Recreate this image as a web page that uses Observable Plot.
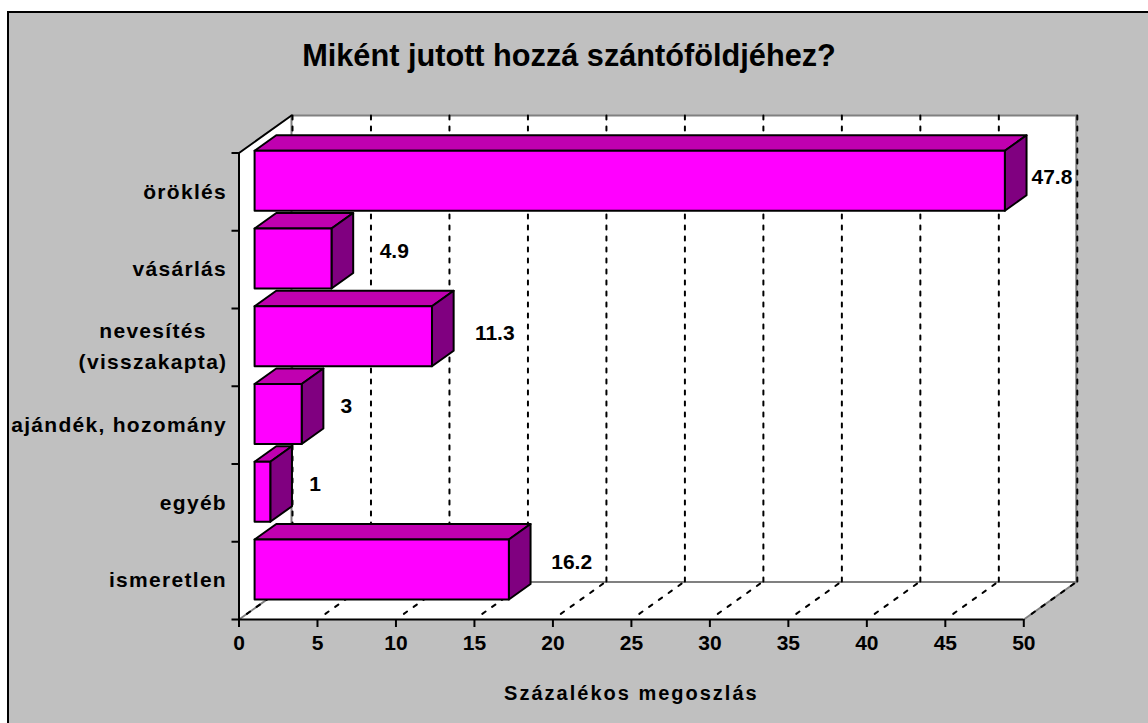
<!DOCTYPE html>
<html lang="hu"><head><meta charset="utf-8">
<script src="https://cdn.jsdelivr.net/npm/d3@7"></script>
<script src="https://cdn.jsdelivr.net/npm/@observablehq/plot@0.6"></script>
<style>
html,body{margin:0;padding:0;background:#fff;width:1148px;height:723px;overflow:hidden}
#frame{position:absolute;left:7px;top:11px;width:1141px;height:712px;box-sizing:border-box;border-top:2px solid #000;border-left:2px solid #000;background:#c0c0c0;overflow:hidden;font-family:"Liberation Sans",Arial,sans-serif}
#frame h1{margin:0;height:82px;width:1120px;text-align:center;font-size:30.7px;line-height:86px;font-weight:bold;color:#000}
#chart svg{display:block;background:transparent;font-family:"Liberation Sans",Arial,sans-serif}
</style></head><body>
<div id="frame"><h1>Miként jutott hozzá szántóföldjéhez?</h1><div id="chart"></div></div>
<script>
const categories = ["öröklés","vásárlás","nevesítés\n(visszakapta)","ajándék, hozomány","egyéb","ismeretlen"];
const values = [47.8,4.9,11.3,3,1,16.2];
const xTicks = [0,5,10,15,20,25,30,35,40,45,50];
const rowTicks = [0,1,2,3,4,5,6];
const axisTitle = "Százalékos megoszlás";
const closeLabels = [47.8,11.3];

// oblique projection: depth 0 = front of the box, depth 1 = back wall (in data units)
const depthX = 3.345, depthY = 0.482;
const P = (v,row,d)=>({x:v+d*depthX,y:row-d*depthY});
const poly = (id,pts)=>[...pts,pts[0]].map(([v,r,d])=>({id,...P(v,r,d)}));
const seg = (id,a,b)=>[a,b].map(([v,r,d])=>({id,...P(v,r,d)}));

const barD0 = 0.297, barD1 = 0.71, barInset = 0.114;
const bars = values.map((v,i)=>({v,t:i+barInset,b:i+1-barInset,i}));
const front = bars.flatMap(b=>poly(b.i,[[0,b.t,barD0],[b.v,b.t,barD0],[b.v,b.b,barD0],[0,b.b,barD0]]));
const top3d = bars.flatMap(b=>poly(b.i,[[0,b.t,barD0],[b.v,b.t,barD0],[b.v,b.t,barD1],[0,b.t,barD1]]));
const side = bars.flatMap(b=>poly(b.i,[[b.v,b.t,barD0],[b.v,b.b,barD0],[b.v,b.b,barD1],[b.v,b.t,barD1]]));

const wallBack = poly("w",[[0,0,1],[50,0,1],[50,6,1],[0,6,1]]);
const wallLeft = poly("l",[[0,0,0],[0,0,1],[0,6,1],[0,6,0]]);
const floor = poly("f",[[0,6,0],[50,6,0],[50,6,1],[0,6,1]]);
const grayEdges = [
  seg("a",[0,0,1],[50,0,1]), seg("b",[50,0,1],[50,6,1]), seg("c",[0,6,1],[50,6,1]),
  seg("d",[0,0,1],[0,6,1]), seg("e",[0,6,0],[0,6,1]), seg("g",[50,6,0],[50,6,1])
].flat();
const blackEdges = [seg("a",[0,0,0],[0,0,1]), seg("b",[0,0,0],[0,6,0])].flat();
const gridBack = xTicks.flatMap(t=>seg(t,[t,0,1],[t,6,1]));
const gridFloor = xTicks.flatMap(t=>seg(t,[t,6,0.15],[t,6,1]));

const labelGap = v=>String(v).length>1?4:2.85;
const labelRows = values.map((v,i)=>({v,i,label:String(v),
  ...P(Math.min(v+labelGap(v),50.8),i+.5,barD0)}));
const singleLine = categories.map((c,i)=>({c,i})).filter(d=>!d.c.includes("\n"));
const multiLine = categories.map((c,i)=>({c,i})).filter(d=>d.c.includes("\n"));

const font = {fontFamily:"Liberation Sans",fontWeight:"bold",fill:"#000"};
const shape = (data,opts)=>Plot.line(data,{x:"x",y:"y",z:"id",curve:"linear",...opts});
const spaced = ls => (index,scales,vals,dims,ctx,next)=>{const g=next(index,scales,vals,dims,ctx);g.style.letterSpacing=ls;return g;};

const plot = Plot.plot({
  width:1139,height:628,
  marginLeft:229.5,marginRight:124.7,marginTop:57.5,marginBottom:104,
  x:{domain:[0,50]},y:{domain:[6,0]},
  marks:[
    shape(wallBack,{fill:"#fff",stroke:"none"}),
    shape(wallLeft,{fill:"#fff",stroke:"none"}),
    shape(floor,{fill:"#fff",stroke:"none"}),
    shape(grayEdges,{stroke:"#808080",strokeWidth:2}),
    shape(gridBack,{stroke:"#000",strokeWidth:2,strokeDasharray:"4,7",dx:1}),
    shape(gridFloor,{stroke:"#000",strokeWidth:2,strokeDasharray:"4,8"}),
    shape(blackEdges,{stroke:"#000",strokeWidth:2}),
    shape(top3d,{fill:"#c000b0",stroke:"#000",strokeWidth:2}),
    shape(side,{fill:"#800080",stroke:"#000",strokeWidth:2}),
    shape(front,{fill:"#ff00ff",stroke:"#000",strokeWidth:2}),
    Plot.axisX({ticks:xTicks,tickSize:8,tickPadding:8,tickFormat:d=>d,stroke:"#000",strokeWidth:2,label:null,fontSize:21,fontWeight:"bold",fill:"#000"}),
    Plot.axisY({ticks:rowTicks,tickSize:7,stroke:"#000",strokeWidth:2,fill:"none",label:null}),
    Plot.ruleY([6],{x1:0,x2:50,stroke:"#000",strokeWidth:2}),
    Plot.text(singleLine,{x:()=>0,y:d=>d.i+.5,text:"c",textAnchor:"end",dx:-12,fontSize:21,render:spaced("1.3px"),...font}),
    Plot.text(multiLine,{x:()=>0,y:d=>d.i+.5,text:"c",textAnchor:"middle",dx:-86,dy:-4,fontSize:21,lineHeight:1.48,render:spaced("1.3px"),...font}),
    Plot.text(labelRows.filter(d=>closeLabels.includes(d.v)),{x:"x",y:"y",text:"label",dy:-3,fontSize:21,textAnchor:"middle",...font}),
    Plot.text(labelRows.filter(d=>!closeLabels.includes(d.v)),{x:"x",y:"y",text:"label",dy:-7.5,fontSize:21,textAnchor:"middle",...font}),
    Plot.text([axisTitle],{x:()=>25,y:()=>6,dy:74,fontSize:20,textAnchor:"middle",render:spaced("2px"),...font})
  ]
});
document.getElementById("chart").appendChild(plot);
</script></body></html>
